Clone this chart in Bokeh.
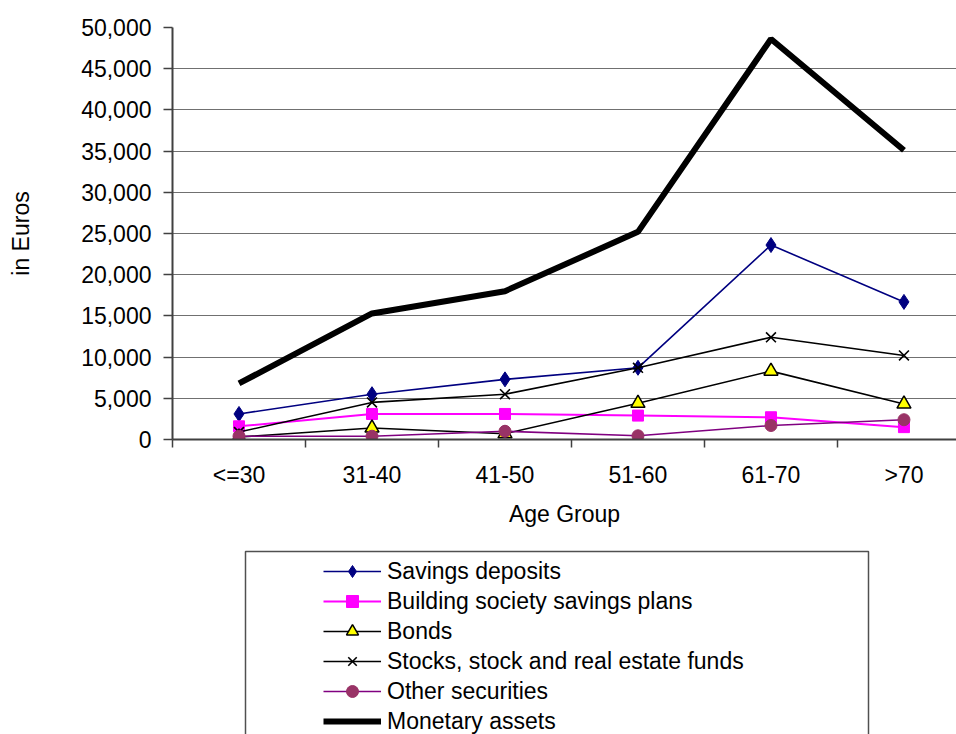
from bokeh.plotting import figure
from bokeh.layouts import column
from bokeh.models import (Range1d, FixedTicker, NumeralTickFormatter, Legend,
                          LegendItem, BoxAnnotation)
from bokeh.embed import file_html
from bokeh.resources import INLINE

# ---- data ----
age_groups = ["<=30", "31-40", "41-50", "51-60", "61-70", ">70"]
savings_deposits = [3100, 5500, 7300, 8700, 23600, 16700]
building_society = [1600, 3100, 3100, 2900, 2700, 1500]
bonds = [300, 1400, 700, 4400, 8300, 4300]
stocks_funds = [900, 4500, 5500, 8700, 12400, 10200]
other_securities = [400, 400, 1000, 450, 1700, 2400]
monetary_assets = [6800, 15300, 18000, 25200, 48600, 35100]
y_ticks = list(range(0, 50001, 5000))

x = [i + 0.5 for i in range(len(age_groups))]
boundaries = list(range(0, len(age_groups)))

FONT = "Liberation Sans"

series = [
    dict(label="Savings deposits", y=savings_deposits,
         line=dict(line_color="#000080", line_width=1.6),
         marker=dict(marker="diamond", size=15, fill_color="#000080", line_color="#000080")),
    dict(label="Building society savings plans", y=building_society,
         line=dict(line_color="#FF00FF", line_width=2),
         marker=dict(marker="square", size=11, fill_color="#FF00FF", line_color="#FF00FF")),
    dict(label="Bonds", y=bonds,
         line=dict(line_color="black", line_width=1.6),
         marker=dict(marker="triangle", size=14, fill_color="#FFFF00", line_color="black", line_width=1.5)),
    dict(label="Stocks, stock and real estate funds", y=stocks_funds,
         line=dict(line_color="black", line_width=1.6),
         marker=dict(marker="x", size=14, line_color="black", line_width=1.6)),
    dict(label="Other securities", y=other_securities,
         line=dict(line_color="#800080", line_width=1.6),
         marker=dict(marker="circle", size=12, fill_color="#993366", line_color="#993366")),
    dict(label="Monetary assets", y=monetary_assets,
         line=dict(line_color="black", line_width=6),
         marker=None),
]

# ---------------- main chart ----------------
p = figure(width=956, height=545,
           x_range=Range1d(0, 5.895), y_range=Range1d(0, 50000),
           output_backend="svg", toolbar_location=None,
           min_border_left=172, min_border_right=0,
           min_border_top=27, min_border_bottom=106)
p.outline_line_color = None

p.xaxis.ticker = FixedTicker(ticks=x, minor_ticks=boundaries)
p.xaxis.major_label_overrides = {xi: lab for xi, lab in zip(x, age_groups)}
p.xaxis.major_tick_line_color = None
p.xaxis.major_tick_out = 0
p.xaxis.major_tick_in = 0
p.xaxis.minor_tick_out = 8
p.xaxis.minor_tick_in = 0
p.xaxis.minor_tick_line_color = "#404040"
p.xaxis.minor_tick_line_width = 1.5
p.xaxis.axis_line_color = "#404040"
p.xaxis.axis_line_width = 2
p.xaxis.major_label_standoff = 14
p.xaxis.axis_label = "Age Group"
p.xaxis.axis_label_standoff = 10

p.yaxis.ticker = FixedTicker(ticks=y_ticks)
p.yaxis.formatter = NumeralTickFormatter(format="0,0")
p.yaxis.major_tick_out = 9
p.yaxis.major_tick_in = 0
p.yaxis.minor_tick_line_color = None
p.yaxis.major_tick_line_color = "#404040"
p.yaxis.major_tick_line_width = 1.5
p.yaxis.axis_line_color = "#404040"
p.yaxis.axis_line_width = 2
p.yaxis.major_label_standoff = 12
p.yaxis.axis_label = "in Euros"
p.yaxis.axis_label_standoff = 44

for ax in (p.xaxis, p.yaxis):
    ax.major_label_text_font = FONT
    ax.major_label_text_font_size = "23px"
    ax.major_label_text_color = "black"
    ax.axis_label_text_font = FONT
    ax.axis_label_text_font_size = "23px"
    ax.axis_label_text_font_style = "normal"
    ax.axis_label_text_color = "black"

p.xgrid.grid_line_color = None
p.ygrid.ticker = FixedTicker(ticks=y_ticks)
p.ygrid.grid_line_color = "#707070"
p.ygrid.grid_line_width = 1.2

for s in series:
    p.line(x, s["y"], **s["line"])
    if s["marker"]:
        p.scatter(x, s["y"], **s["marker"])

# ---------------- legend panel ----------------
q = figure(width=956, height=189,
           x_range=Range1d(0, 1), y_range=Range1d(0, 1),
           output_backend="svg", toolbar_location=None,
           x_axis_location=None, y_axis_location=None,
           min_border_left=172, min_border_right=0,
           min_border_top=0, min_border_bottom=0)
q.outline_line_color = None
q.grid.grid_line_color = None

items = []
for s in series:
    rs = [q.line(x, s["y"], visible=False, **s["line"])]
    if s["marker"]:
        rs.append(q.scatter(x, s["y"], visible=False, **s["marker"]))
    items.append(LegendItem(label=s["label"], renderers=rs))

legend = Legend(items=items, location=(151, -2), padding=0, spacing=0,
                margin=0, glyph_width=58, glyph_height=30, label_height=30,
                label_standoff=6, label_text_font=FONT,
                label_text_font_size="23px", label_text_color="black",
                border_line_color=None, background_fill_alpha=0,
                click_policy="none")
q.add_layout(legend)

box = BoxAnnotation(left=245, right=868, top=6, bottom=-50,
                    left_units="canvas", right_units="canvas",
                    top_units="canvas", bottom_units="data",
                    fill_alpha=0, line_color="#505050", line_alpha=1.0,
                    line_width=1.5)
q.add_layout(box)

layout = column(p, q, spacing=0)
open("out.html", "w").write(file_html(layout, INLINE))
